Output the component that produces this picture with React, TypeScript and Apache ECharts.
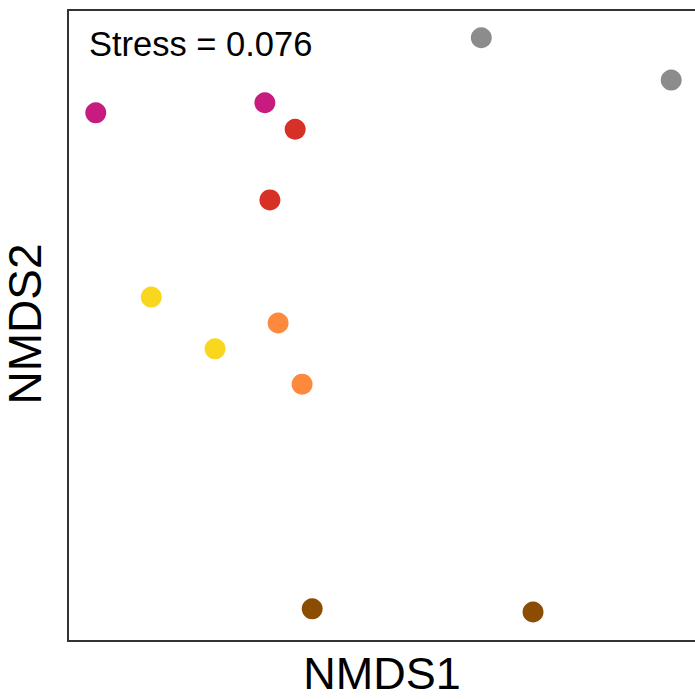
import React, { useEffect, useRef } from "react";
import * as echarts from "echarts";

const groups = ["Gray", "Magenta", "Red", "Yellow", "Orange", "Brown"];
const groupColors = ["#8c8c8c", "#c71b7f", "#d73027", "#fad71f", "#fd8a3c", "#8b4c04"];
const nmds1 = [
  [0.155, 0.456],
  [-0.456, -0.188],
  [-0.14, -0.18],
  [-0.368, -0.267],
  [-0.167, -0.129],
  [-0.113, 0.237],
];
const nmds2 = [
  [0.456, 0.389],
  [0.337, 0.353],
  [0.311, 0.199],
  [0.045, -0.037],
  [0.004, -0.093],
  [-0.449, -0.454],
];
const stressLabel = "Stress = 0.076";
const xTitle = "NMDS1";
const yTitle = "NMDS2";

export default function App() {
  const ref = useRef<HTMLDivElement>(null);
  useEffect(() => {
    if (!ref.current) return;
    const chart = echarts.init(ref.current, null, { renderer: "svg" });
    const font = "Liberation Sans, Arial, Helvetica, sans-serif";
    const line = { show: true, onZero: false, lineStyle: { color: "#333333", width: 2 } };
    const hidden = {
      axisTick: { show: false },
      axisLabel: { show: false },
      splitLine: { show: false },
    };
    chart.setOption({
      animation: false,
      backgroundColor: "#ffffff",
      grid: { left: 68, right: 0, top: 10, bottom: 58 },
      xAxis: [
        { type: "value", min: -0.5, max: 0.4937, position: "bottom", axisLine: line, ...hidden },
        { type: "value", min: -0.5, max: 0.4937, position: "top", axisLine: line, ...hidden },
      ],
      yAxis: {
        type: "value",
        min: -0.5,
        max: 0.5,
        position: "left",
        axisLine: line,
        ...hidden,
      },
      series: groups.map((g, i) => ({
        name: g,
        type: "scatter",
        symbol: "circle",
        symbolSize: 21,
        itemStyle: { color: groupColors[i], opacity: 1 },
        data: nmds1[i].map((x, j) => [x, nmds2[i][j]]),
      })),
      graphic: [
        {
          type: "text",
          x: 89,
          y: 44,
          style: {
            text: stressLabel,
            font: `34.5px ${font}`,
            fill: "#000000",
            textVerticalAlign: "middle",
            textAlign: "left",
          },
        },
        {
          type: "text",
          x: 382,
          y: 673,
          style: {
            text: xTitle,
            font: `45px ${font}`,
            fill: "#000000",
            textVerticalAlign: "middle",
            textAlign: "center",
          },
        },
        {
          type: "text",
          x: 25,
          y: 324,
          rotation: Math.PI / 2,
          style: {
            text: yTitle,
            font: `46px ${font}`,
            fill: "#000000",
            textVerticalAlign: "middle",
            textAlign: "center",
          },
        },
      ],
    });
    return () => chart.dispose();
  }, []);
  return (
    <div
      ref={ref}
      style={{ position: "fixed", left: 0, top: 0, width: 695, height: 699 }}
    />
  );
}
